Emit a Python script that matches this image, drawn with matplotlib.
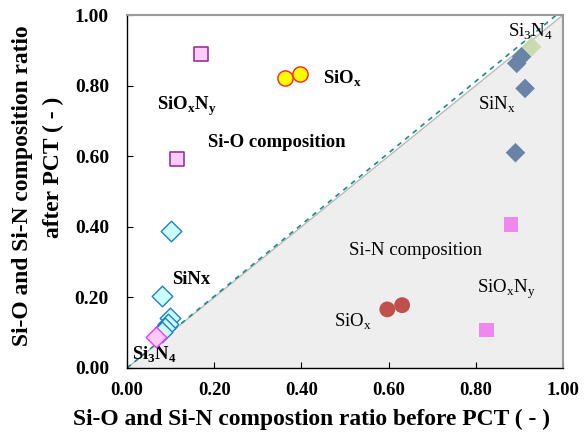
import matplotlib
matplotlib.use("Agg")
import matplotlib.pyplot as plt
import numpy as np

plt.rcParams['font.family'] = ['Liberation Serif', 'DejaVu Serif']
plt.rcParams['mathtext.fontset'] = 'custom'
plt.rcParams['mathtext.rm'] = 'Liberation Serif'
plt.rcParams['mathtext.bf'] = 'Liberation Serif:bold'

# Si-O composition (before, after)
siox_o_x = [0.362, 0.397]
siox_o_y = [0.821, 0.833]
sioxny_o_x = [0.169, 0.114]
sioxny_o_y = [0.890, 0.592]
sinx_o_x = [0.102, 0.080, 0.099, 0.093, 0.087, 0.080]
sinx_o_y = [0.388, 0.205, 0.141, 0.124, 0.112, 0.103]
si3n4_o_x = [0.067]
si3n4_o_y = [0.087]

# Si-N composition (before, after)
sinx_n_x = [0.894, 0.905, 0.913, 0.891]
sinx_n_y = [0.863, 0.882, 0.792, 0.610]
si3n4_n_x = [0.928]
si3n4_n_y = [0.910]
sioxny_n_x = [0.881, 0.825]
sioxny_n_y = [0.407, 0.108]
siox_n_x = [0.597, 0.631]
siox_n_y = [0.166, 0.178]

ticks = [0.0, 0.2, 0.4, 0.6, 0.8, 1.0]
tick_labels = ['0.00', '0.20', '0.40', '0.60', '0.80', '1.00']

fig = plt.figure(figsize=(5.85, 4.34), dpi=100)
ax = fig.add_axes([127/585, 1-368/434, 436/585, 353/434])
ax.set_xlim(0, 1)
ax.set_ylim(0, 1)

# shaded lower triangle
ax.fill([0, 1, 1], [0, 0, 1], color='#EEEEEE', zorder=0)
ax.plot([0, 1], [0, 1], color='#BBBBBB', lw=1.0, zorder=1)
ax.plot([0, 0.985], [0, 1.0], color='#1A8C8C', lw=1.2, ls=(0, (3, 3)), zorder=1)

# Si-O points
ax.scatter(siox_o_x, siox_o_y, s=120, marker='o', facecolor='#FFFF00', edgecolor='#FF2020', lw=1.0, zorder=3)
ax.scatter(sioxny_o_x, sioxny_o_y, s=110, marker='s', facecolor='#FFCCFF', edgecolor='#993399', lw=1.2, zorder=3)
ax.scatter(sinx_o_x, sinx_o_y, s=110, marker='D', facecolor='#CCFFFF', edgecolor='#1E7FD0', lw=1.0, zorder=3)
ax.scatter(si3n4_o_x, si3n4_o_y, s=110, marker='D', facecolor='#FFCCFF', edgecolor='#FF33FF', lw=1.0, zorder=4)

# Si-N points
ax.scatter(sinx_n_x, sinx_n_y, s=100, marker='D', facecolor='#6A84A8', edgecolor='none', zorder=3)
ax.scatter(si3n4_n_x, si3n4_n_y, s=100, marker='D', facecolor='#C8D8A8', edgecolor='none', alpha=0.9, zorder=4)
ax.scatter(sioxny_n_x, sioxny_n_y, s=110, marker='s', facecolor='#EE88EE', edgecolor='none', zorder=3)
ax.scatter(siox_n_x, siox_n_y, s=130, marker='o', facecolor='#C0504D', edgecolor='none', zorder=3)

fs = 13.5
# annotations (bold, Si-O region)
ax.text(0.450, 0.806, r'SiO$_\mathbf{x}$', fontsize=fs, fontweight='bold', va='baseline', ha='left')
ax.text(0.068, 0.731, r'SiO$_\mathbf{x}$N$_\mathbf{y}$', fontsize=fs, fontweight='bold', va='baseline', ha='left')
ax.text(0.186, 0.627, 'Si-O composition', fontsize=fs, fontweight='bold', va='baseline', ha='left')
ax.text(0.104, 0.237, 'SiNx', fontsize=fs, fontweight='bold', va='baseline', ha='left')
ax.text(0.011, 0.023, r'Si$_\mathbf{3}$N$_\mathbf{4}$', fontsize=fs, fontweight='bold', va='baseline', ha='left')

# annotations (normal, Si-N region)
ax.text(0.875, 0.939, r'Si$_\mathrm{3}$N$_\mathrm{4}$', fontsize=fs, va='baseline', ha='left')
ax.text(0.806, 0.731, r'SiN$_\mathrm{x}$', fontsize=fs, va='baseline', ha='left')
ax.text(0.509, 0.320, 'Si-N composition', fontsize=fs, va='baseline', ha='left')
ax.text(0.802, 0.213, r'SiO$_\mathrm{x}$N$_\mathrm{y}$', fontsize=fs, va='baseline', ha='left')
ax.text(0.475, 0.117, r'SiO$_\mathrm{x}$', fontsize=fs, va='baseline', ha='left')

ax.set_xticks(ticks)
ax.set_xticklabels(tick_labels, fontsize=13.5, fontweight='bold')
ax.set_yticks(ticks)
ax.set_yticklabels(tick_labels, fontsize=14, fontweight='bold')
ax.tick_params(direction='in', length=4, width=0.8)
ax.tick_params(axis='x', pad=10)
ax.tick_params(axis='y', pad=13)

for s in ['left', 'bottom']:
    ax.spines[s].set_color('black')
    ax.spines[s].set_linewidth(1.0)
for s in ['top', 'right']:
    ax.spines[s].set_color('#999999')
    ax.spines[s].set_linewidth(1.5)

fig.text(311.5/585, 0.021, 'Si-O and Si-N compostion ratio before PCT ( - )',
         fontsize=16.9, fontweight='bold', ha='center', va='baseline')
fig.text(23/585, 1-186/434, 'Si-O and Si-N composition ratio',
         fontsize=16.9, fontweight='bold', ha='center', va='center', rotation=90)
fig.text(53/585, 1-167/434, 'after PCT ( - )',
         fontsize=16.9, fontweight='bold', ha='center', va='center', rotation=90)

fig.savefig('out.png', dpi=100)
